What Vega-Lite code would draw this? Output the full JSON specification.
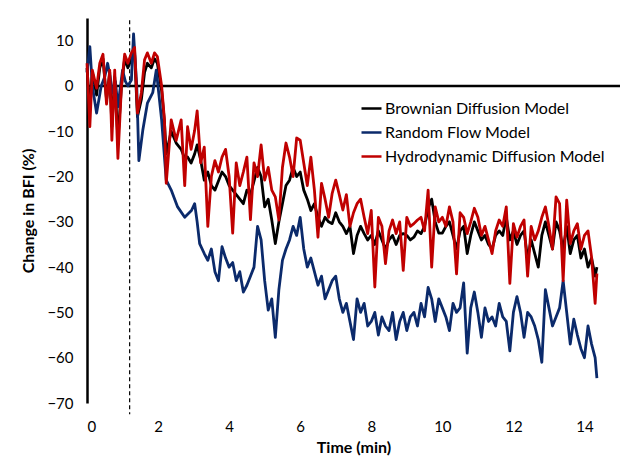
{
"$schema": "https://vega.github.io/schema/vega-lite/v6.json",
"width": 533, "height": 385,
"autosize": {"type": "none"},
"padding": {"left": 87, "top": 18, "right": 23, "bottom": 66},
"background": "white",
"config": {"view": {"stroke": null}, "font": "Lato", "axis": {"grid": false}},
"layer": [
{"data": {"values": [{}]}, "mark": {"type": "rule", "color": "black", "strokeWidth": 2.5}, "encoding": {"y": {"datum": 0}}},
{"data": {"values": [{}]}, "mark": {"type": "rule", "color": "black", "strokeWidth": 1.2, "strokeDash": [4, 3], "clip": false}, "encoding": {"x": {"datum": 1.2}, "y": {"datum": 14.5}, "y2": {"datum": -72.5}}},
{"data": {"values": [
{"s":"b","t":0,"v":4},{"s":"b","t":0.08,"v":-5},{"s":"b","t":0.15,"v":3},{"s":"b","t":0.27,"v":-2},{"s":"b","t":0.36,"v":4},{"s":"b","t":0.45,"v":6},{"s":"b","t":0.55,"v":-3},{"s":"b","t":0.64,"v":3},{"s":"b","t":0.7,"v":-9},{"s":"b","t":0.78,"v":2},{"s":"b","t":0.87,"v":-12},{"s":"b","t":0.97,"v":0},{"s":"b","t":1.06,"v":6},{"s":"b","t":1.15,"v":4},{"s":"b","t":1.25,"v":6},{"s":"b","t":1.34,"v":7},{"s":"b","t":1.42,"v":-6.8},{"s":"b","t":1.53,"v":-3},{"s":"b","t":1.62,"v":3},{"s":"b","t":1.7,"v":5},{"s":"b","t":1.81,"v":4},{"s":"b","t":1.9,"v":6},{"s":"b","t":1.98,"v":5},{"s":"b","t":2.1,"v":-1},{"s":"b","t":2.18,"v":-8},{"s":"b","t":2.23,"v":-15},{"s":"b","t":2.37,"v":-10},{"s":"b","t":2.51,"v":-12.6},{"s":"b","t":2.65,"v":-14},{"s":"b","t":2.75,"v":-16},{"s":"b","t":2.83,"v":-15.7},{"s":"b","t":2.93,"v":-17},{"s":"b","t":3.03,"v":-15},{"s":"b","t":3.1,"v":-13},{"s":"b","t":3.2,"v":-16.4},{"s":"b","t":3.3,"v":-20.8},{"s":"b","t":3.4,"v":-19},{"s":"b","t":3.5,"v":-22},{"s":"b","t":3.6,"v":-23},{"s":"b","t":3.7,"v":-21},{"s":"b","t":3.8,"v":-19},{"s":"b","t":3.9,"v":-20},{"s":"b","t":4.0,"v":-22},{"s":"b","t":4.1,"v":-23},{"s":"b","t":4.2,"v":-24},{"s":"b","t":4.3,"v":-25},{"s":"b","t":4.4,"v":-26},{"s":"b","t":4.5,"v":-23},{"s":"b","t":4.6,"v":-24},{"s":"b","t":4.7,"v":-21},{"s":"b","t":4.8,"v":-18},{"s":"b","t":4.9,"v":-20},{"s":"b","t":5.0,"v":-26.7},{"s":"b","t":5.1,"v":-25},{"s":"b","t":5.2,"v":-29.6},{"s":"b","t":5.3,"v":-34.8},{"s":"b","t":5.4,"v":-30},{"s":"b","t":5.5,"v":-26},{"s":"b","t":5.6,"v":-22},{"s":"b","t":5.7,"v":-20.8},{"s":"b","t":5.8,"v":-18},{"s":"b","t":5.9,"v":-20},{"s":"b","t":6.0,"v":-19},{"s":"b","t":6.1,"v":-23},{"s":"b","t":6.2,"v":-25},{"s":"b","t":6.3,"v":-27.5},{"s":"b","t":6.4,"v":-26},{"s":"b","t":6.5,"v":-29},{"s":"b","t":6.6,"v":-31},{"s":"b","t":6.7,"v":-29},{"s":"b","t":6.8,"v":-30},{"s":"b","t":6.9,"v":-30.4},{"s":"b","t":7.0,"v":-28},{"s":"b","t":7.1,"v":-30},{"s":"b","t":7.2,"v":-31},{"s":"b","t":7.3,"v":-32.6},{"s":"b","t":7.4,"v":-31},{"s":"b","t":7.5,"v":-37},{"s":"b","t":7.6,"v":-33},{"s":"b","t":7.7,"v":-31},{"s":"b","t":7.8,"v":-32.6},{"s":"b","t":7.9,"v":-34},{"s":"b","t":8.0,"v":-33},{"s":"b","t":8.1,"v":-35},{"s":"b","t":8.2,"v":-32},{"s":"b","t":8.3,"v":-34},{"s":"b","t":8.4,"v":-36},{"s":"b","t":8.5,"v":-34},{"s":"b","t":8.6,"v":-33},{"s":"b","t":8.7,"v":-35},{"s":"b","t":8.8,"v":-33},{"s":"b","t":8.9,"v":-32.6},{"s":"b","t":9.0,"v":-33},{"s":"b","t":9.1,"v":-34},{"s":"b","t":9.2,"v":-33.4},{"s":"b","t":9.3,"v":-32},{"s":"b","t":9.4,"v":-32.6},{"s":"b","t":9.5,"v":-31},{"s":"b","t":9.6,"v":-27},{"s":"b","t":9.7,"v":-25},{"s":"b","t":9.8,"v":-30},{"s":"b","t":9.9,"v":-32.5},{"s":"b","t":10.0,"v":-32.5},{"s":"b","t":10.1,"v":-31},{"s":"b","t":10.2,"v":-30},{"s":"b","t":10.3,"v":-33},{"s":"b","t":10.4,"v":-36},{"s":"b","t":10.5,"v":-32},{"s":"b","t":10.6,"v":-31},{"s":"b","t":10.7,"v":-37},{"s":"b","t":10.8,"v":-33},{"s":"b","t":10.9,"v":-30},{"s":"b","t":11.0,"v":-32},{"s":"b","t":11.1,"v":-34},{"s":"b","t":11.2,"v":-33},{"s":"b","t":11.3,"v":-35},{"s":"b","t":11.4,"v":-36},{"s":"b","t":11.5,"v":-33},{"s":"b","t":11.6,"v":-32},{"s":"b","t":11.7,"v":-33},{"s":"b","t":11.8,"v":-29},{"s":"b","t":11.9,"v":-34},{"s":"b","t":12.0,"v":-32},{"s":"b","t":12.1,"v":-35},{"s":"b","t":12.2,"v":-33},{"s":"b","t":12.3,"v":-32},{"s":"b","t":12.4,"v":-38},{"s":"b","t":12.5,"v":-34},{"s":"b","t":12.6,"v":-37},{"s":"b","t":12.7,"v":-40},{"s":"b","t":12.8,"v":-33},{"s":"b","t":12.9,"v":-30},{"s":"b","t":13.0,"v":-33},{"s":"b","t":13.1,"v":-36},{"s":"b","t":13.2,"v":-30},{"s":"b","t":13.3,"v":-32},{"s":"b","t":13.4,"v":-36},{"s":"b","t":13.5,"v":-31},{"s":"b","t":13.6,"v":-37},{"s":"b","t":13.7,"v":-34},{"s":"b","t":13.8,"v":-33},{"s":"b","t":13.9,"v":-38},{"s":"b","t":14.0,"v":-36},{"s":"b","t":14.1,"v":-40},{"s":"b","t":14.2,"v":-38},{"s":"b","t":14.3,"v":-42},{"s":"b","t":14.35,"v":-40},
{"s":"r","t":0,"v":3},{"s":"r","t":0.08,"v":8.7},{"s":"r","t":0.15,"v":0},{"s":"r","t":0.27,"v":-6},{"s":"r","t":0.4,"v":0},{"s":"r","t":0.5,"v":2},{"s":"r","t":0.58,"v":5},{"s":"r","t":0.65,"v":2},{"s":"r","t":0.72,"v":-1.5},{"s":"r","t":0.8,"v":1},{"s":"r","t":0.87,"v":-4.6},{"s":"r","t":1.0,"v":3.5},{"s":"r","t":1.08,"v":1},{"s":"r","t":1.15,"v":0},{"s":"r","t":1.25,"v":1.3},{"s":"r","t":1.31,"v":11.5},{"s":"r","t":1.4,"v":0},{"s":"r","t":1.46,"v":-16.5},{"s":"r","t":1.57,"v":-9.8},{"s":"r","t":1.7,"v":-3.8},{"s":"r","t":1.85,"v":-1.5},{"s":"r","t":1.95,"v":3.5},{"s":"r","t":2.1,"v":-7.5},{"s":"r","t":2.23,"v":-20.8},{"s":"r","t":2.37,"v":-23},{"s":"r","t":2.55,"v":-26.7},{"s":"r","t":2.75,"v":-29},{"s":"r","t":2.94,"v":-27.5},{"s":"r","t":3.03,"v":-26},{"s":"r","t":3.1,"v":-30},{"s":"r","t":3.17,"v":-34.8},{"s":"r","t":3.3,"v":-37},{"s":"r","t":3.4,"v":-38.5},{"s":"r","t":3.5,"v":-36},{"s":"r","t":3.6,"v":-41},{"s":"r","t":3.7,"v":-43},{"s":"r","t":3.8,"v":-35.5},{"s":"r","t":3.9,"v":-38},{"s":"r","t":4.0,"v":-40},{"s":"r","t":4.1,"v":-39},{"s":"r","t":4.2,"v":-43},{"s":"r","t":4.3,"v":-41},{"s":"r","t":4.4,"v":-45.5},{"s":"r","t":4.5,"v":-44},{"s":"r","t":4.6,"v":-42},{"s":"r","t":4.7,"v":-40},{"s":"r","t":4.8,"v":-31},{"s":"r","t":4.9,"v":-34},{"s":"r","t":5.0,"v":-43},{"s":"r","t":5.1,"v":-49.5},{"s":"r","t":5.2,"v":-47},{"s":"r","t":5.3,"v":-55.5},{"s":"r","t":5.4,"v":-45},{"s":"r","t":5.5,"v":-38.5},{"s":"r","t":5.6,"v":-36},{"s":"r","t":5.7,"v":-34},{"s":"r","t":5.8,"v":-31},{"s":"r","t":5.9,"v":-33},{"s":"r","t":6.0,"v":-29},{"s":"r","t":6.1,"v":-36},{"s":"r","t":6.2,"v":-40},{"s":"r","t":6.3,"v":-38},{"s":"r","t":6.4,"v":-41},{"s":"r","t":6.5,"v":-44},{"s":"r","t":6.6,"v":-42},{"s":"r","t":6.7,"v":-47},{"s":"r","t":6.8,"v":-45},{"s":"r","t":6.9,"v":-43},{"s":"r","t":7.0,"v":-42},{"s":"r","t":7.1,"v":-47},{"s":"r","t":7.2,"v":-50},{"s":"r","t":7.3,"v":-48},{"s":"r","t":7.4,"v":-52},{"s":"r","t":7.5,"v":-56},{"s":"r","t":7.6,"v":-47},{"s":"r","t":7.7,"v":-50},{"s":"r","t":7.8,"v":-48},{"s":"r","t":7.9,"v":-53},{"s":"r","t":8.0,"v":-52},{"s":"r","t":8.1,"v":-50},{"s":"r","t":8.2,"v":-55},{"s":"r","t":8.3,"v":-51},{"s":"r","t":8.4,"v":-53},{"s":"r","t":8.5,"v":-54},{"s":"r","t":8.6,"v":-50},{"s":"r","t":8.7,"v":-56},{"s":"r","t":8.8,"v":-52},{"s":"r","t":8.9,"v":-50},{"s":"r","t":9.0,"v":-54},{"s":"r","t":9.1,"v":-51},{"s":"r","t":9.2,"v":-50},{"s":"r","t":9.3,"v":-53},{"s":"r","t":9.4,"v":-48},{"s":"r","t":9.5,"v":-51},{"s":"r","t":9.6,"v":-44.5},{"s":"r","t":9.7,"v":-47},{"s":"r","t":9.8,"v":-52},{"s":"r","t":9.9,"v":-47},{"s":"r","t":10.0,"v":-49},{"s":"r","t":10.1,"v":-51},{"s":"r","t":10.2,"v":-54},{"s":"r","t":10.3,"v":-48},{"s":"r","t":10.4,"v":-50},{"s":"r","t":10.5,"v":-49},{"s":"r","t":10.6,"v":-43.5},{"s":"r","t":10.7,"v":-59},{"s":"r","t":10.8,"v":-49},{"s":"r","t":10.9,"v":-45.5},{"s":"r","t":11.0,"v":-50},{"s":"r","t":11.1,"v":-55.5},{"s":"r","t":11.2,"v":-49},{"s":"r","t":11.3,"v":-52},{"s":"r","t":11.4,"v":-51},{"s":"r","t":11.5,"v":-53},{"s":"r","t":11.6,"v":-48},{"s":"r","t":11.7,"v":-51},{"s":"r","t":11.8,"v":-52},{"s":"r","t":11.9,"v":-58.5},{"s":"r","t":12.0,"v":-50},{"s":"r","t":12.1,"v":-46.5},{"s":"r","t":12.2,"v":-50},{"s":"r","t":12.3,"v":-55.5},{"s":"r","t":12.4,"v":-50},{"s":"r","t":12.5,"v":-51},{"s":"r","t":12.6,"v":-53},{"s":"r","t":12.7,"v":-56},{"s":"r","t":12.8,"v":-61},{"s":"r","t":12.9,"v":-45},{"s":"r","t":13.0,"v":-49},{"s":"r","t":13.1,"v":-53},{"s":"r","t":13.2,"v":-51},{"s":"r","t":13.3,"v":-49},{"s":"r","t":13.4,"v":-43},{"s":"r","t":13.5,"v":-50},{"s":"r","t":13.6,"v":-57},{"s":"r","t":13.7,"v":-51.5},{"s":"r","t":13.8,"v":-55},{"s":"r","t":13.9,"v":-58},{"s":"r","t":14.0,"v":-60},{"s":"r","t":14.1,"v":-53},{"s":"r","t":14.2,"v":-57},{"s":"r","t":14.3,"v":-60},{"s":"r","t":14.35,"v":-64.5},
{"s":"h","t":0,"v":5},{"s":"h","t":0.08,"v":-9},{"s":"h","t":0.15,"v":3.5},{"s":"h","t":0.27,"v":-0.5},{"s":"h","t":0.36,"v":5},{"s":"h","t":0.45,"v":7},{"s":"h","t":0.55,"v":-4},{"s":"h","t":0.64,"v":3.5},{"s":"h","t":0.7,"v":-12},{"s":"h","t":0.78,"v":3.5},{"s":"h","t":0.87,"v":-16},{"s":"h","t":0.97,"v":0},{"s":"h","t":1.06,"v":7},{"s":"h","t":1.15,"v":5},{"s":"h","t":1.25,"v":7.3},{"s":"h","t":1.34,"v":8.5},{"s":"h","t":1.42,"v":-6},{"s":"h","t":1.53,"v":-1.5},{"s":"h","t":1.62,"v":5.8},{"s":"h","t":1.7,"v":7.3},{"s":"h","t":1.81,"v":5},{"s":"h","t":1.9,"v":7.3},{"s":"h","t":1.98,"v":6.5},{"s":"h","t":2.1,"v":0},{"s":"h","t":2.18,"v":-7.5},{"s":"h","t":2.23,"v":-21.5},{"s":"h","t":2.37,"v":-7.5},{"s":"h","t":2.51,"v":-12},{"s":"h","t":2.65,"v":-7.5},{"s":"h","t":2.75,"v":-22},{"s":"h","t":2.83,"v":-9},{"s":"h","t":2.93,"v":-14},{"s":"h","t":3.03,"v":-9.8},{"s":"h","t":3.1,"v":-5.5},{"s":"h","t":3.2,"v":-17},{"s":"h","t":3.3,"v":-13.5},{"s":"h","t":3.4,"v":-31},{"s":"h","t":3.5,"v":-20},{"s":"h","t":3.6,"v":-16.5},{"s":"h","t":3.7,"v":-19},{"s":"h","t":3.8,"v":-15.7},{"s":"h","t":3.9,"v":-14},{"s":"h","t":4.0,"v":-20},{"s":"h","t":4.1,"v":-32.5},{"s":"h","t":4.2,"v":-17},{"s":"h","t":4.3,"v":-22},{"s":"h","t":4.4,"v":-19},{"s":"h","t":4.5,"v":-15.7},{"s":"h","t":4.6,"v":-29.5},{"s":"h","t":4.7,"v":-17},{"s":"h","t":4.8,"v":-20},{"s":"h","t":4.9,"v":-13},{"s":"h","t":5.0,"v":-20.8},{"s":"h","t":5.1,"v":-18},{"s":"h","t":5.2,"v":-23},{"s":"h","t":5.3,"v":-24.5},{"s":"h","t":5.4,"v":-29.6},{"s":"h","t":5.5,"v":-18},{"s":"h","t":5.6,"v":-12.6},{"s":"h","t":5.7,"v":-15.7},{"s":"h","t":5.8,"v":-20},{"s":"h","t":5.9,"v":-11.5},{"s":"h","t":6.0,"v":-12},{"s":"h","t":6.1,"v":-17},{"s":"h","t":6.2,"v":-22},{"s":"h","t":6.3,"v":-15.7},{"s":"h","t":6.4,"v":-23},{"s":"h","t":6.5,"v":-33.4},{"s":"h","t":6.6,"v":-21.5},{"s":"h","t":6.7,"v":-25},{"s":"h","t":6.8,"v":-29},{"s":"h","t":6.9,"v":-23.7},{"s":"h","t":7.0,"v":-20.8},{"s":"h","t":7.1,"v":-24},{"s":"h","t":7.2,"v":-27.4},{"s":"h","t":7.3,"v":-24},{"s":"h","t":7.4,"v":-31},{"s":"h","t":7.5,"v":-28},{"s":"h","t":7.6,"v":-26},{"s":"h","t":7.7,"v":-25},{"s":"h","t":7.8,"v":-29},{"s":"h","t":7.9,"v":-32.6},{"s":"h","t":8.0,"v":-27.5},{"s":"h","t":8.1,"v":-44.4},{"s":"h","t":8.2,"v":-29},{"s":"h","t":8.3,"v":-31},{"s":"h","t":8.4,"v":-39.2},{"s":"h","t":8.5,"v":-32},{"s":"h","t":8.6,"v":-29.6},{"s":"h","t":8.7,"v":-32.6},{"s":"h","t":8.8,"v":-30},{"s":"h","t":8.9,"v":-40.7},{"s":"h","t":9.0,"v":-29},{"s":"h","t":9.1,"v":-31},{"s":"h","t":9.2,"v":-30.4},{"s":"h","t":9.3,"v":-29.6},{"s":"h","t":9.4,"v":-29},{"s":"h","t":9.5,"v":-32},{"s":"h","t":9.6,"v":-23},{"s":"h","t":9.7,"v":-40},{"s":"h","t":9.8,"v":-26.7},{"s":"h","t":9.9,"v":-30},{"s":"h","t":10.0,"v":-29},{"s":"h","t":10.1,"v":-31},{"s":"h","t":10.2,"v":-26.7},{"s":"h","t":10.3,"v":-30},{"s":"h","t":10.4,"v":-41.5},{"s":"h","t":10.5,"v":-28},{"s":"h","t":10.6,"v":-29},{"s":"h","t":10.7,"v":-32.6},{"s":"h","t":10.8,"v":-30},{"s":"h","t":10.9,"v":-27},{"s":"h","t":11.0,"v":-29},{"s":"h","t":11.1,"v":-33},{"s":"h","t":11.2,"v":-31},{"s":"h","t":11.3,"v":-34},{"s":"h","t":11.4,"v":-37},{"s":"h","t":11.5,"v":-32},{"s":"h","t":11.6,"v":-29.6},{"s":"h","t":11.7,"v":-31},{"s":"h","t":11.8,"v":-26.7},{"s":"h","t":11.9,"v":-43.6},{"s":"h","t":12.0,"v":-30.4},{"s":"h","t":12.1,"v":-33.4},{"s":"h","t":12.2,"v":-31},{"s":"h","t":12.3,"v":-29.6},{"s":"h","t":12.4,"v":-42},{"s":"h","t":12.5,"v":-31},{"s":"h","t":12.6,"v":-34},{"s":"h","t":12.7,"v":-32},{"s":"h","t":12.8,"v":-29},{"s":"h","t":12.9,"v":-26.7},{"s":"h","t":13.0,"v":-31},{"s":"h","t":13.1,"v":-36},{"s":"h","t":13.2,"v":-24.5},{"s":"h","t":13.3,"v":-26},{"s":"h","t":13.4,"v":-43},{"s":"h","t":13.5,"v":-25.2},{"s":"h","t":13.6,"v":-34.8},{"s":"h","t":13.7,"v":-32},{"s":"h","t":13.8,"v":-30.4},{"s":"h","t":13.9,"v":-36},{"s":"h","t":14.0,"v":-33},{"s":"h","t":14.1,"v":-32},{"s":"h","t":14.2,"v":-37.8},{"s":"h","t":14.3,"v":-48},{"s":"h","t":14.35,"v":-41.4}
]},
"mark": {"type": "line", "strokeWidth": 2.8, "strokeJoin": "round"},
"encoding": {
"x": {"field": "t", "type": "quantitative", "scale": {"domain": [0, 15], "nice": false},
 "axis": {"title": "Time (min)", "values": [0, 2, 4, 6, 8, 10, 12, 14], "domain": false, "ticks": false, "labelPadding": 16, "labelFontSize": 15, "labelColor": "#000", "labelFont": "Lato", "titleFont": "Lato", "titleFontSize": 16, "titleFontWeight": "bold", "titleColor": "#000", "titlePadding": 5}},
"y": {"field": "v", "type": "quantitative", "scale": {"domain": [-70, 15], "nice": false, "zero": false},
 "axis": {"title": "Change in BFI (%)", "values": [-70, -60, -50, -40, -30, -20, -10, 0, 10], "domain": true, "domainColor": "#000", "domainWidth": 2.5, "ticks": false, "labelPadding": 14, "labelFontSize": 15, "labelColor": "#000", "labelFont": "Lato", "titleFont": "Lato", "titleFontSize": 16, "titleFontWeight": "bold", "titleColor": "#000", "titlePadding": 10}},
"color": {"field": "s", "type": "nominal", "scale": {"domain": ["b", "r", "h"], "range": ["#000000", "#0b2a6b", "#c00000"]},
 "legend": {"orient": "none", "legendX": 273, "legendY": 79, "title": null, "symbolType": "stroke", "symbolSize": 400, "symbolStrokeWidth": 2.5, "labelFontSize": 16, "labelFont": "Lato", "labelColor": "#000", "labelLimit": 0, "rowPadding": 4, "labelOffset": 2,
  "labelExpr": "datum.label == 'b' ? 'Brownian Diffusion Model' : datum.label == 'r' ? 'Random Flow Model' : 'Hydrodynamic Diffusion Model'"}}
}}
]
}
